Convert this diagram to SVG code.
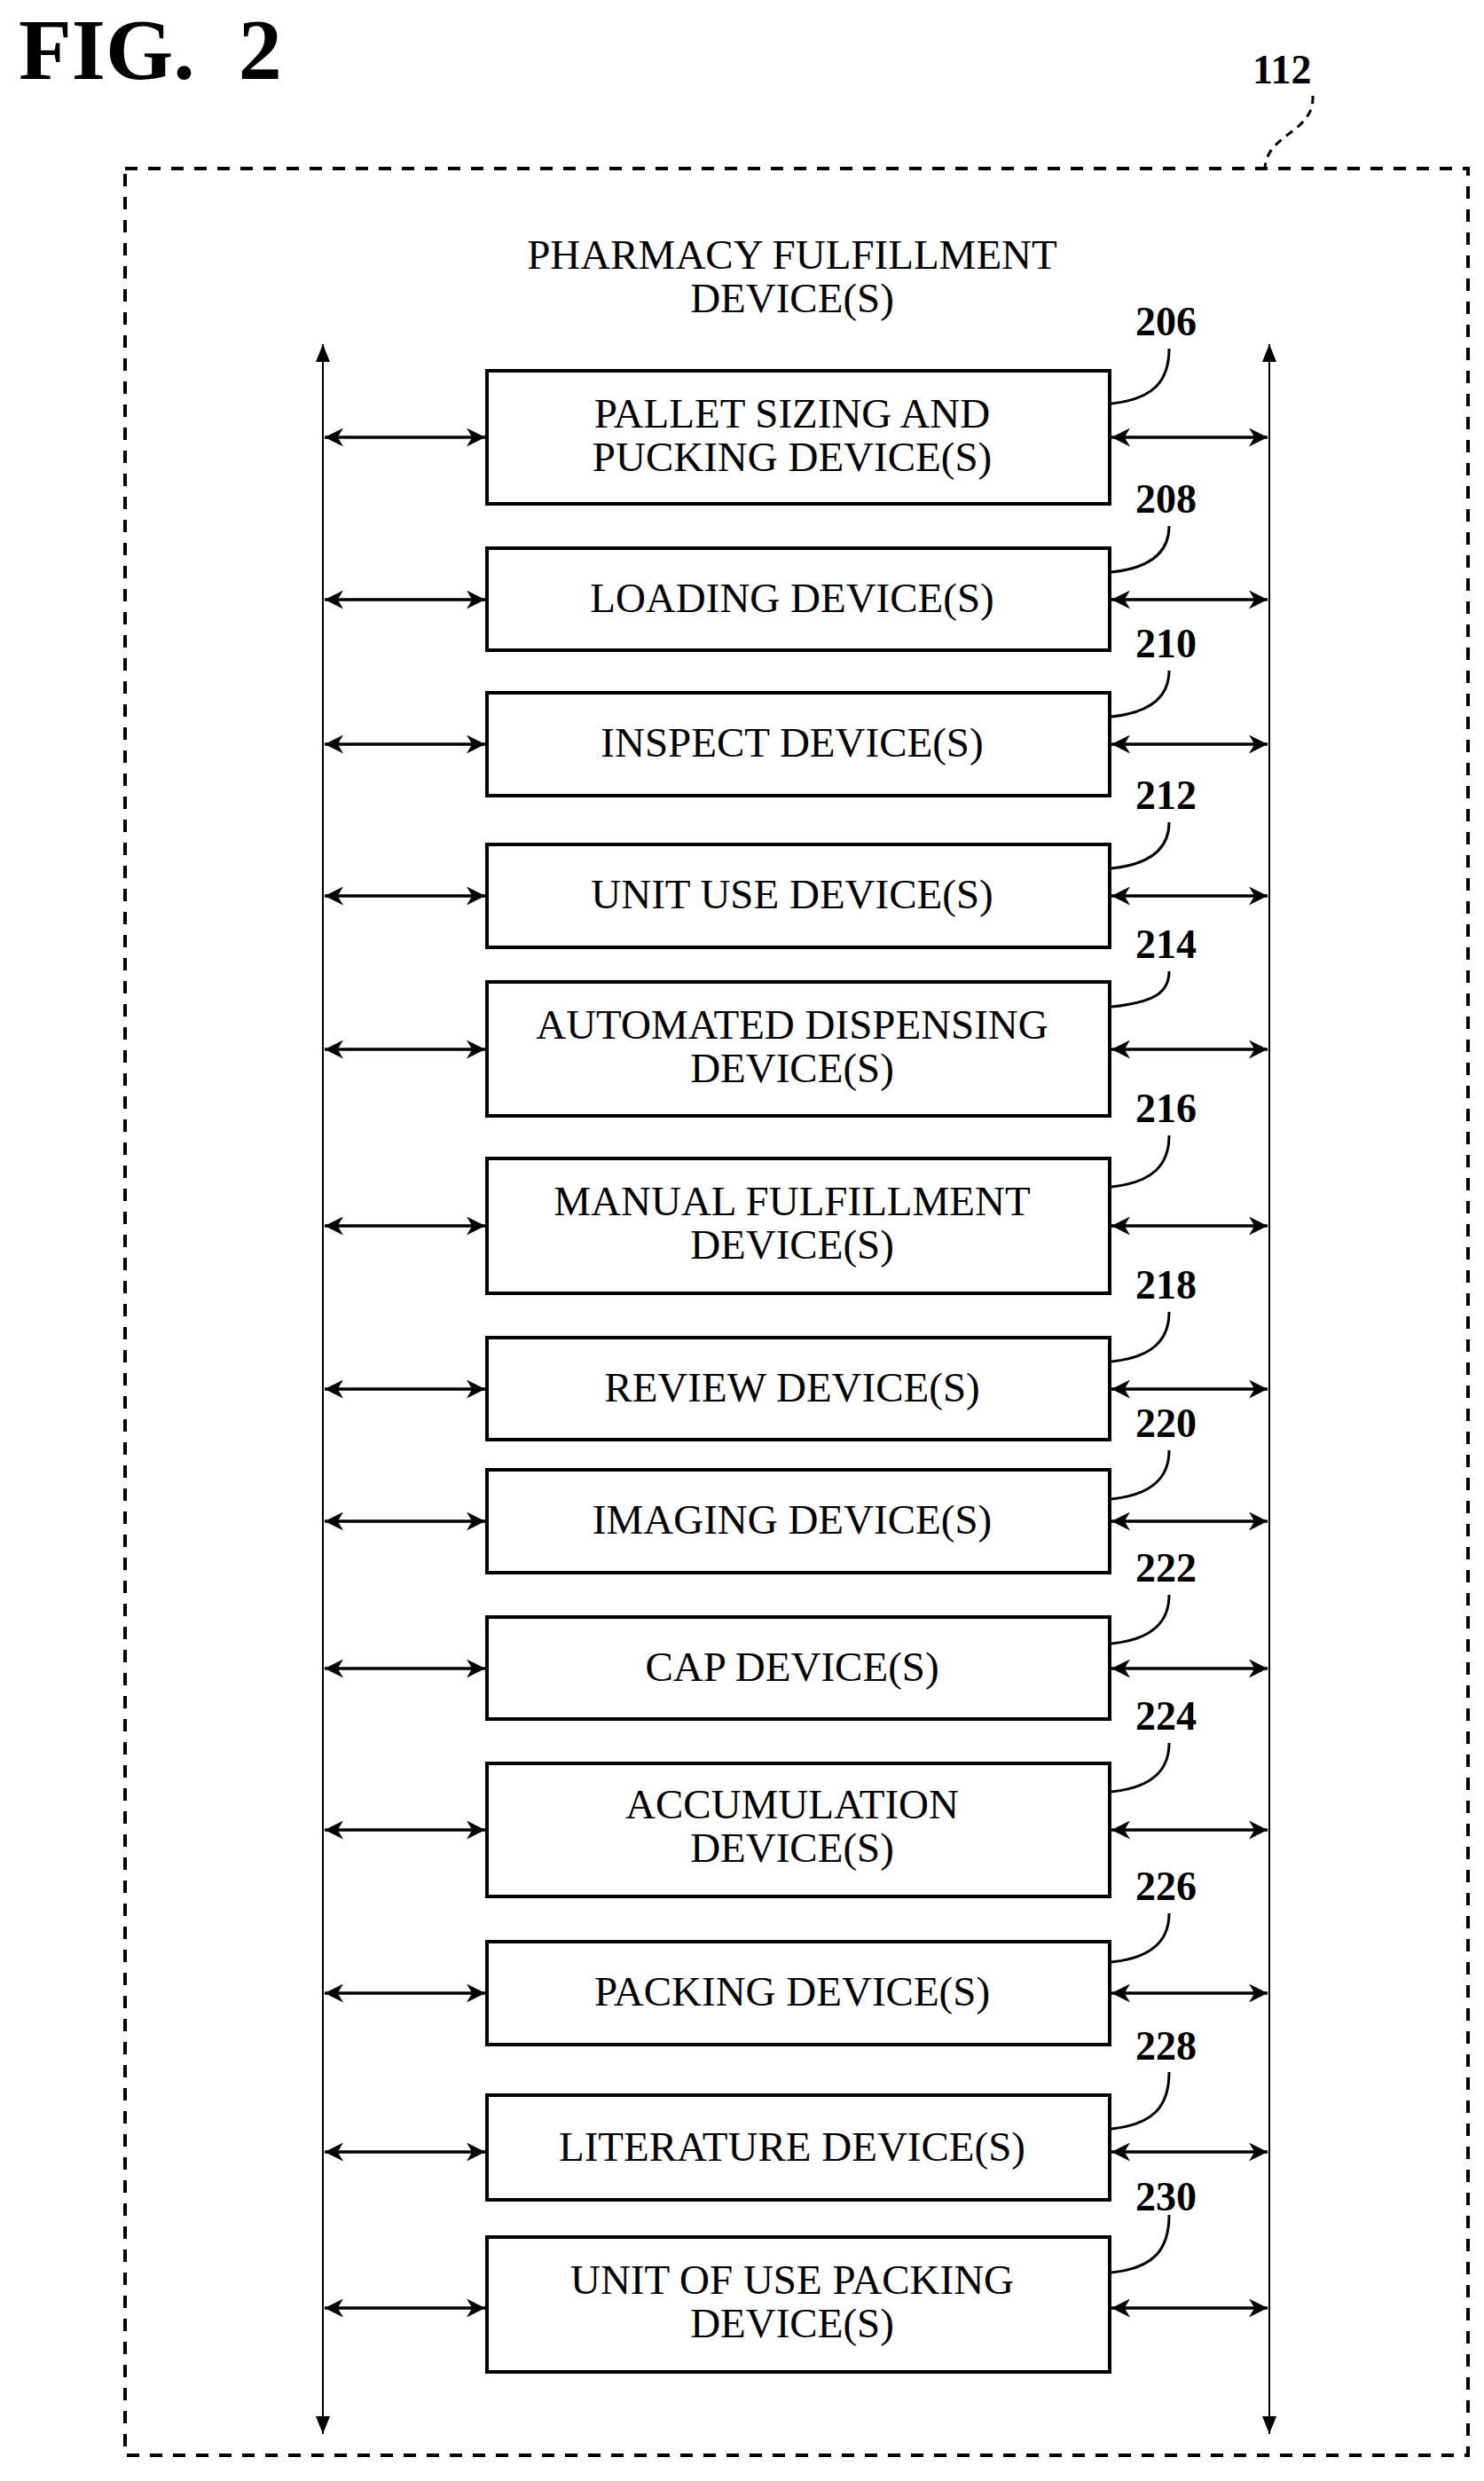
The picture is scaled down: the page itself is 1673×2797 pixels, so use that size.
<svg xmlns="http://www.w3.org/2000/svg" width="1673" height="2797" viewBox="0 0 1673 2797">
<defs>
<marker id="ah" viewBox="0 0 10 10" refX="10" refY="5" markerWidth="7" markerHeight="6" orient="auto-start-reverse" markerUnits="strokeWidth"><path d="M0,0 L10,5 L0,10 L3,5 z" fill="#000"/></marker>
<marker id="av" viewBox="0 0 10 10" refX="10" refY="5" markerWidth="14" markerHeight="10" orient="auto-start-reverse" markerUnits="strokeWidth"><path d="M0,1 L10,5 L0,9 z" fill="#000"/></marker>
</defs>
<style>
.b{fill:#fff;stroke:#000;stroke-width:4}
.t{font-family:"Liberation Serif",serif;font-size:47px;text-anchor:middle;fill:#000}
.n{font-family:"Liberation Serif",serif;font-size:46px;font-weight:bold;fill:#000}
.l{fill:none;stroke:#000;stroke-width:3}
.h{stroke:#000;stroke-width:3.5;marker-start:url(#ah);marker-end:url(#ah)}
.v{stroke:#000;stroke-width:2;marker-start:url(#av);marker-end:url(#av)}
</style>
<rect width="1673" height="2797" fill="#fff"/>
<text x="21" y="89" font-family="Liberation Serif,serif" font-size="98" font-weight="bold" xml:space="preserve">FIG.  2</text>
<g id="container">
<rect x="141" y="190" width="1514" height="2578" fill="none" stroke="#000" stroke-width="4" stroke-dasharray="14,12"/>
<text class="n" x="1412" y="94">112</text>
<path d="M1480,108 C1482,150 1428,150 1426,190" fill="none" stroke="#000" stroke-width="3" stroke-dasharray="9,7"/>
<text class="t" x="893" y="303">PHARMACY FULFILLMENT</text>
<text class="t" x="893" y="352">DEVICE(S)</text>
</g>
<g id="connectors">
<line class="v" x1="364" y1="388" x2="364" y2="2744"/>
<line class="v" x1="1431" y1="388" x2="1431" y2="2744"/>
<line class="h" x1="366" y1="493" x2="547" y2="493"/><line class="h" x1="1253" y1="493" x2="1429" y2="493"/>
<line class="h" x1="366" y1="676" x2="547" y2="676"/><line class="h" x1="1253" y1="676" x2="1429" y2="676"/>
<line class="h" x1="366" y1="839" x2="547" y2="839"/><line class="h" x1="1253" y1="839" x2="1429" y2="839"/>
<line class="h" x1="366" y1="1010" x2="547" y2="1010"/><line class="h" x1="1253" y1="1010" x2="1429" y2="1010"/>
<line class="h" x1="366" y1="1183" x2="547" y2="1183"/><line class="h" x1="1253" y1="1183" x2="1429" y2="1183"/>
<line class="h" x1="366" y1="1382" x2="547" y2="1382"/><line class="h" x1="1253" y1="1382" x2="1429" y2="1382"/>
<line class="h" x1="366" y1="1566" x2="547" y2="1566"/><line class="h" x1="1253" y1="1566" x2="1429" y2="1566"/>
<line class="h" x1="366" y1="1715" x2="547" y2="1715"/><line class="h" x1="1253" y1="1715" x2="1429" y2="1715"/>
<line class="h" x1="366" y1="1881" x2="547" y2="1881"/><line class="h" x1="1253" y1="1881" x2="1429" y2="1881"/>
<line class="h" x1="366" y1="2063" x2="547" y2="2063"/><line class="h" x1="1253" y1="2063" x2="1429" y2="2063"/>
<line class="h" x1="366" y1="2247" x2="547" y2="2247"/><line class="h" x1="1253" y1="2247" x2="1429" y2="2247"/>
<line class="h" x1="366" y1="2426" x2="547" y2="2426"/><line class="h" x1="1253" y1="2426" x2="1429" y2="2426"/>
<line class="h" x1="366" y1="2602" x2="547" y2="2602"/><line class="h" x1="1253" y1="2602" x2="1429" y2="2602"/>
</g>
<g id="n206"><rect class="b" x="549" y="418" width="702" height="150"/><text class="t" x="893" y="482">PALLET SIZING AND</text><text class="t" x="893" y="531">PUCKING DEVICE(S)</text><text class="n" x="1280" y="378">206</text><path class="l" d="M1253,455 C1300,450 1318,430 1318,393"/></g>
<g id="n208"><rect class="b" x="549" y="618" width="702" height="115"/><text class="t" x="893" y="690">LOADING DEVICE(S)</text><text class="n" x="1280" y="578">208</text><path class="l" d="M1253,645 C1300,640 1318,620 1318,593"/></g>
<g id="n210"><rect class="b" x="549" y="781" width="702" height="116"/><text class="t" x="893" y="853">INSPECT DEVICE(S)</text><text class="n" x="1280" y="741">210</text><path class="l" d="M1253,808 C1300,803 1318,783 1318,756"/></g>
<g id="n212"><rect class="b" x="549" y="952" width="702" height="116"/><text class="t" x="893" y="1024">UNIT USE DEVICE(S)</text><text class="n" x="1280" y="912">212</text><path class="l" d="M1253,979 C1300,974 1318,954 1318,927"/></g>
<g id="n214"><rect class="b" x="549" y="1107" width="702" height="151"/><text class="t" x="893" y="1171">AUTOMATED DISPENSING</text><text class="t" x="893" y="1220">DEVICE(S)</text><text class="n" x="1280" y="1080">214</text><path class="l" d="M1253,1135 C1300,1130 1318,1120 1318,1095"/></g>
<g id="n216"><rect class="b" x="549" y="1306" width="702" height="152"/><text class="t" x="893" y="1370">MANUAL FULFILLMENT</text><text class="t" x="893" y="1419">DEVICE(S)</text><text class="n" x="1280" y="1265">216</text><path class="l" d="M1253,1338 C1300,1333 1318,1313 1318,1280"/></g>
<g id="n218"><rect class="b" x="549" y="1508" width="702" height="115"/><text class="t" x="893" y="1580">REVIEW DEVICE(S)</text><text class="n" x="1280" y="1464">218</text><path class="l" d="M1253,1535 C1300,1530 1318,1510 1318,1479"/></g>
<g id="n220"><rect class="b" x="549" y="1657" width="702" height="116"/><text class="t" x="893" y="1729">IMAGING DEVICE(S)</text><text class="n" x="1280" y="1620">220</text><path class="l" d="M1253,1690 C1300,1685 1318,1665 1318,1635"/></g>
<g id="n222"><rect class="b" x="549" y="1823" width="702" height="115"/><text class="t" x="893" y="1895">CAP DEVICE(S)</text><text class="n" x="1280" y="1783">222</text><path class="l" d="M1253,1853 C1300,1848 1318,1828 1318,1798"/></g>
<g id="n224"><rect class="b" x="549" y="1988" width="702" height="150"/><text class="t" x="893" y="2050">ACCUMULATION</text><text class="t" x="893" y="2099">DEVICE(S)</text><text class="n" x="1280" y="1950">224</text><path class="l" d="M1253,2020 C1300,2015 1318,1995 1318,1965"/></g>
<g id="n226"><rect class="b" x="549" y="2189" width="702" height="116"/><text class="t" x="893" y="2261">PACKING DEVICE(S)</text><text class="n" x="1280" y="2142">226</text><path class="l" d="M1253,2212 C1300,2207 1318,2187 1318,2157"/></g>
<g id="n228"><rect class="b" x="549" y="2362" width="702" height="118"/><text class="t" x="893" y="2436">LITERATURE DEVICE(S)</text><text class="n" x="1280" y="2322">228</text><path class="l" d="M1253,2400 C1300,2395 1318,2375 1318,2336"/></g>
<g id="n230"><rect class="b" x="549" y="2522" width="702" height="152"/><text class="t" x="893" y="2586">UNIT OF USE PACKING</text><text class="t" x="893" y="2635">DEVICE(S)</text><text class="n" x="1280" y="2492">230</text><path class="l" d="M1253,2562 C1300,2557 1318,2537 1318,2497"/></g>
</svg>
